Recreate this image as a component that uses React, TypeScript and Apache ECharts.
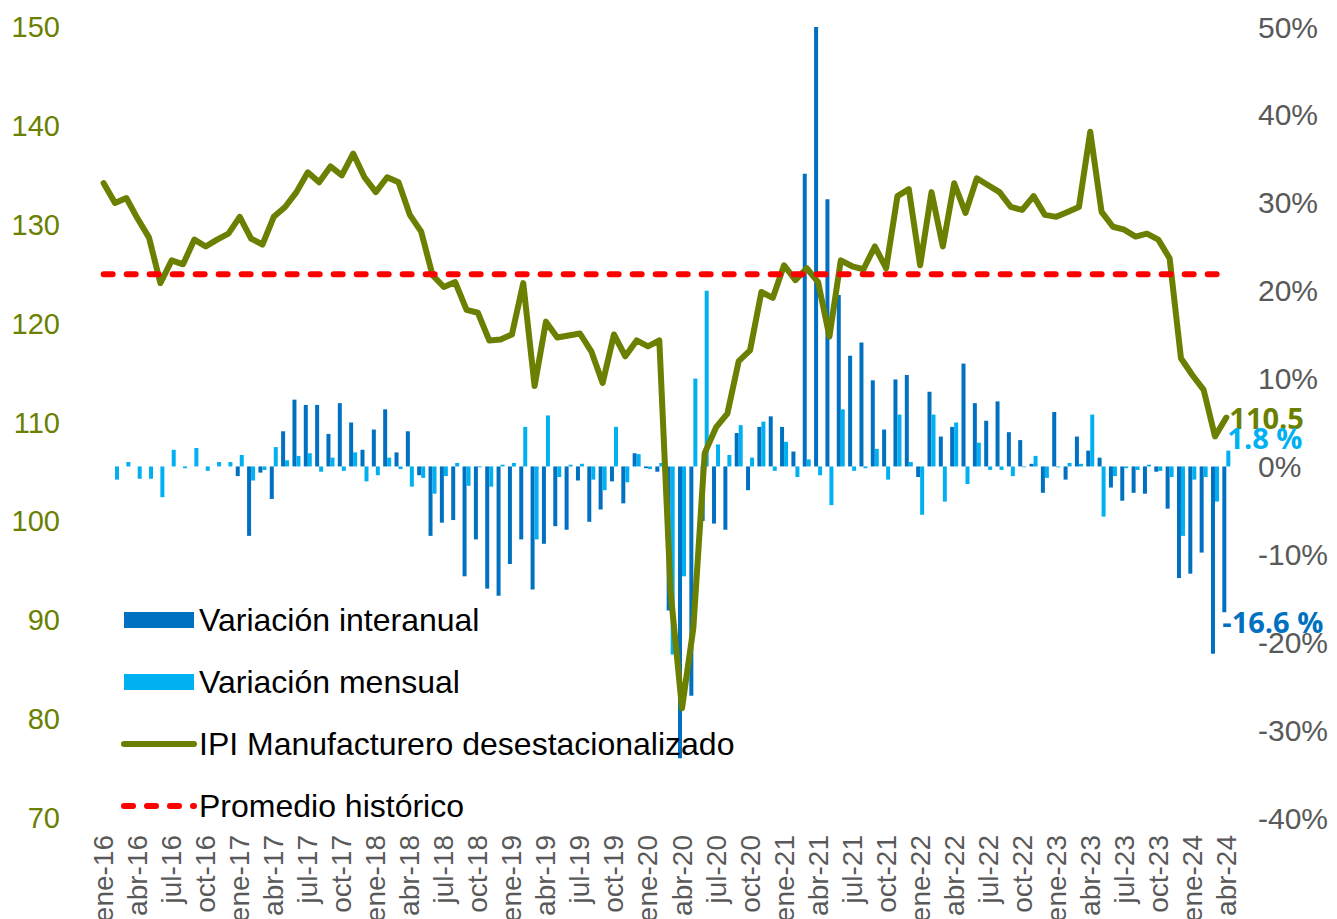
import React, { useEffect, useRef } from "react";
import * as echarts from "echarts";

const monthNames = ["ene", "feb", "mar", "abr", "may", "jun", "jul", "ago", "sep", "oct", "nov", "dic"];
const years = ["16", "17", "18", "19", "20", "21", "22", "23", "24"];
const categories: string[] = [];
years.forEach((y) => {
  monthNames.forEach((m, i) => {
    if (y === "24" && i > 3) return;
    categories.push(`${m}-${y}`);
  });
});

// IPI Manufacturero desestacionalizado (left axis)
const ipi = [
  134.2, 132.2, 132.7, 130.6, 128.7, 124.1, 126.4, 126.0, 128.5, 127.8, 128.5, 129.1,
  130.8, 128.6, 128.0, 130.8, 131.8, 133.3, 135.3, 134.3, 135.9, 135.0, 137.2, 134.8,
  133.3, 134.8, 134.3, 131.0, 129.3, 124.9, 123.7, 124.2, 121.4, 121.1, 118.3, 118.4,
  118.9, 124.1, 113.7, 120.2, 118.6, 118.8, 119.0, 117.2, 114.0, 118.9, 116.7, 118.3,
  117.7, 118.3, 92.8, 81.1, 89.2, 106.9, 109.5, 110.9, 116.2, 117.3, 123.2, 122.6,
  125.9, 124.4, 125.6, 124.2, 118.7, 126.4, 125.8, 125.5, 127.8, 125.6, 132.9, 133.6,
  125.9, 133.3, 127.8, 134.2, 131.2, 134.7, 134.0, 133.3, 131.8, 131.5, 132.9, 131.0,
  130.8, 131.3, 131.8, 139.4, 131.3, 129.8, 129.5, 128.8, 129.1, 128.5, 126.6, 116.5,
  114.8, 113.3, 108.6, 110.5,
];

// Variación interanual (%)
const interanual = [
  null, null, null, null, null, null, null, null, null, null, null, null,
  -1.1, -7.9, -0.7, -3.7, 4.0, 7.6, 7.0, 7.0, 3.7, 7.2, 5.0, 1.9,
  4.2, 6.5, 1.6, 4.0, -1.0, -7.9, -6.4, -6.1, -12.5, -8.3, -13.9, -14.7,
  -11.1, -8.3, -14.0, -8.8, -6.8, -7.2, -1.6, -6.3, -4.9, -1.7, -4.2, 1.5,
  -0.2, -0.6, -16.4, -33.2, -26.1, -6.2, -6.5, -7.2, 3.8, -2.7, 4.5, 5.7,
  4.5, 1.7, 33.3, 50.0, 30.4, 19.5, 12.6, 14.1, 9.8, 4.2, 9.9, 10.4,
  -1.2, 8.5, 3.4, 4.5, 11.7, 7.2, 5.2, 7.4, 3.9, 3.0, 0.3, -3.0,
  6.2, -1.5, 3.4, 1.8, 1.0, -2.4, -3.9, -3.0, -3.1, -0.6, -4.8, -12.7,
  -12.2, -9.8, -21.3, -16.6,
];

// Variación mensual (%)
const mensual = [
  null, -1.5, 0.5, -1.4, -1.4, -3.5, 1.9, -0.2, 2.1, -0.5, 0.5, 0.5,
  1.3, -1.6, -0.4, 2.2, 0.7, 1.2, 1.5, -0.6, 1.0, -0.5, 1.6, -1.7,
  -1.0, 1.0, -0.3, -2.3, -1.3, -3.1, -1.1, 0.4, -2.2, -0.1, -2.3, 0.2,
  0.4, 4.5, -8.3, 5.8, -1.2, 0.2, 0.3, -1.5, -2.7, 4.5, -1.8, 1.4,
  -0.3, 0.4, -21.4, -12.5, 10.0, 20.0, 2.5, 1.3, 4.7, 1.0, 5.1, -0.5,
  2.8, -1.2, 0.8, -1.0, -4.4, 6.5, -0.5, -0.2, 2.0, -1.5, 5.9, 0.5,
  -5.5, 5.9, -4.0, 5.0, -2.0, 2.7, -0.4, -0.4, -1.1, -0.1, 1.2, -1.3,
  -0.1, 0.4, 0.3, 5.9, -5.7, -1.1, -0.2, -0.4, 0.2, -0.5, -1.2, -7.9,
  -1.5, -1.2, -4.0, 1.8,
];

const promedioHistorico = 125;
const promedioData = categories.map(() => promedioHistorico);

const OLIVE = "#6B7F00";
const DARK_BLUE = "#0070C0";
const LIGHT_BLUE = "#00B0F0";
const GRAY = "#595959";
const FONT = "'Liberation Sans', Arial, sans-serif";
const LABEL_FONT = "'Open Sans', 'Noto Sans', sans-serif";

export default function App() {
  const ref = useRef<HTMLDivElement>(null);

  useEffect(() => {
    if (!ref.current) return;
    const chart = echarts.init(ref.current, undefined, { renderer: "svg" });
    const hiddenSymbol = { color: "rgba(0,0,0,0)", opacity: 0, borderWidth: 0 };
    const option: any = {
      animation: false,
      textStyle: { fontFamily: FONT },
      grid: {
        left: 98,
        right: 105,
        top: 27,
        bottom: 101,
        containLabel: false,
        outerBoundsMode: "none",
      },
      legend: {
        orient: "vertical",
        left: 121,
        top: 604,
        padding: 0,
        itemWidth: 70,
        itemHeight: 16,
        itemGap: 30,
        selectedMode: false,
        textStyle: { fontSize: 32, color: "#000", fontFamily: FONT },
        data: [
          { name: "Variación interanual", icon: "rect" },
          { name: "Variación mensual", icon: "rect" },
          {
            name: "IPI Manufacturero desestacionalizado",
            itemStyle: hiddenSymbol,
            lineStyle: { width: 6, cap: "round" },
          },
          {
            name: "Promedio histórico",
            itemStyle: hiddenSymbol,
            lineStyle: { width: 6, cap: "round" },
          },
        ],
      },
      xAxis: {
        type: "category",
        data: categories,
        boundaryGap: true,
        axisLine: { show: false },
        axisTick: { show: false },
        splitLine: { show: false },
        axisLabel: {
          interval: 2,
          rotate: 90,
          fontSize: 28,
          color: GRAY,
          margin: 17,
          fontFamily: FONT,
        },
      },
      yAxis: [
        {
          type: "value",
          min: 70,
          max: 150,
          interval: 10,
          position: "left",
          axisLine: { show: false },
          axisTick: { show: false },
          splitLine: { show: false },
          axisLabel: { fontSize: 29, color: OLIVE, margin: 38, fontFamily: FONT },
        },
        {
          type: "value",
          min: -40,
          max: 50,
          interval: 10,
          position: "right",
          axisLine: { show: false },
          axisTick: { show: false },
          splitLine: { show: false },
          axisLabel: {
            fontSize: 30,
            color: GRAY,
            margin: 26,
            align: "left",
            formatter: "{value}%",
            fontFamily: FONT,
          },
        },
      ],
      series: [
        {
          name: "Variación interanual",
          type: "bar",
          yAxisIndex: 1,
          data: interanual,
          barWidth: 4,
          barGap: "0%",
          itemStyle: { color: DARK_BLUE },
        },
        {
          name: "Variación mensual",
          type: "bar",
          yAxisIndex: 1,
          data: mensual,
          barWidth: 4,
          barGap: "0%",
          itemStyle: { color: LIGHT_BLUE },
        },
        {
          name: "IPI Manufacturero desestacionalizado",
          type: "line",
          yAxisIndex: 0,
          data: ipi,
          symbol: "none",
          showSymbol: false,
          lineStyle: { width: 6, color: OLIVE, join: "round", cap: "round" },
          itemStyle: { color: OLIVE },
        },
        {
          name: "Promedio histórico",
          type: "line",
          yAxisIndex: 0,
          data: promedioData,
          symbol: "none",
          showSymbol: false,
          lineStyle: { width: 6, color: "#FF0000", type: [9, 14], cap: "round" },
          itemStyle: { color: "#FF0000" },
        },
      ],
    };
    chart.setOption(option);

    const last = categories.length - 1;
    const pLine = chart.convertToPixel({ seriesIndex: 2 }, [last, ipi[last]]) as number[];
    const pMens = chart.convertToPixel({ seriesIndex: 1 }, [last, mensual[last] as number]) as number[];
    const pInter = chart.convertToPixel({ seriesIndex: 0 }, [last, interanual[last] as number]) as number[];
    const labelStyle = { fontSize: 29, fontWeight: "bold", fontFamily: LABEL_FONT };
    chart.setOption({
      graphic: [
        {
          type: "text",
          x: pLine[0] + 3,
          y: pLine[1],
          z: 100,
          style: {
            ...labelStyle,
            text: ipi[last].toFixed(1),
            fill: OLIVE,
            verticalAlign: "middle",
            align: "left",
          },
        },
        {
          type: "text",
          x: pMens[0] + 1,
          y: pMens[1] - 13,
          z: 100,
          style: {
            ...labelStyle,
            text: `${(mensual[last] as number).toFixed(1)} %`,
            fill: LIGHT_BLUE,
            verticalAlign: "middle",
            align: "left",
          },
        },
        {
          type: "text",
          x: pInter[0] - 4,
          y: pInter[1] + 9,
          z: 100,
          style: {
            ...labelStyle,
            text: `${(interanual[last] as number).toFixed(1)} %`,
            fill: DARK_BLUE,
            verticalAlign: "middle",
            align: "left",
          },
        },
      ],
    });

    return () => chart.dispose();
  }, []);

  return (
    <div
      ref={ref}
      style={{ position: "absolute", left: 0, top: 0, width: 1337, height: 919 }}
    />
  );
}
